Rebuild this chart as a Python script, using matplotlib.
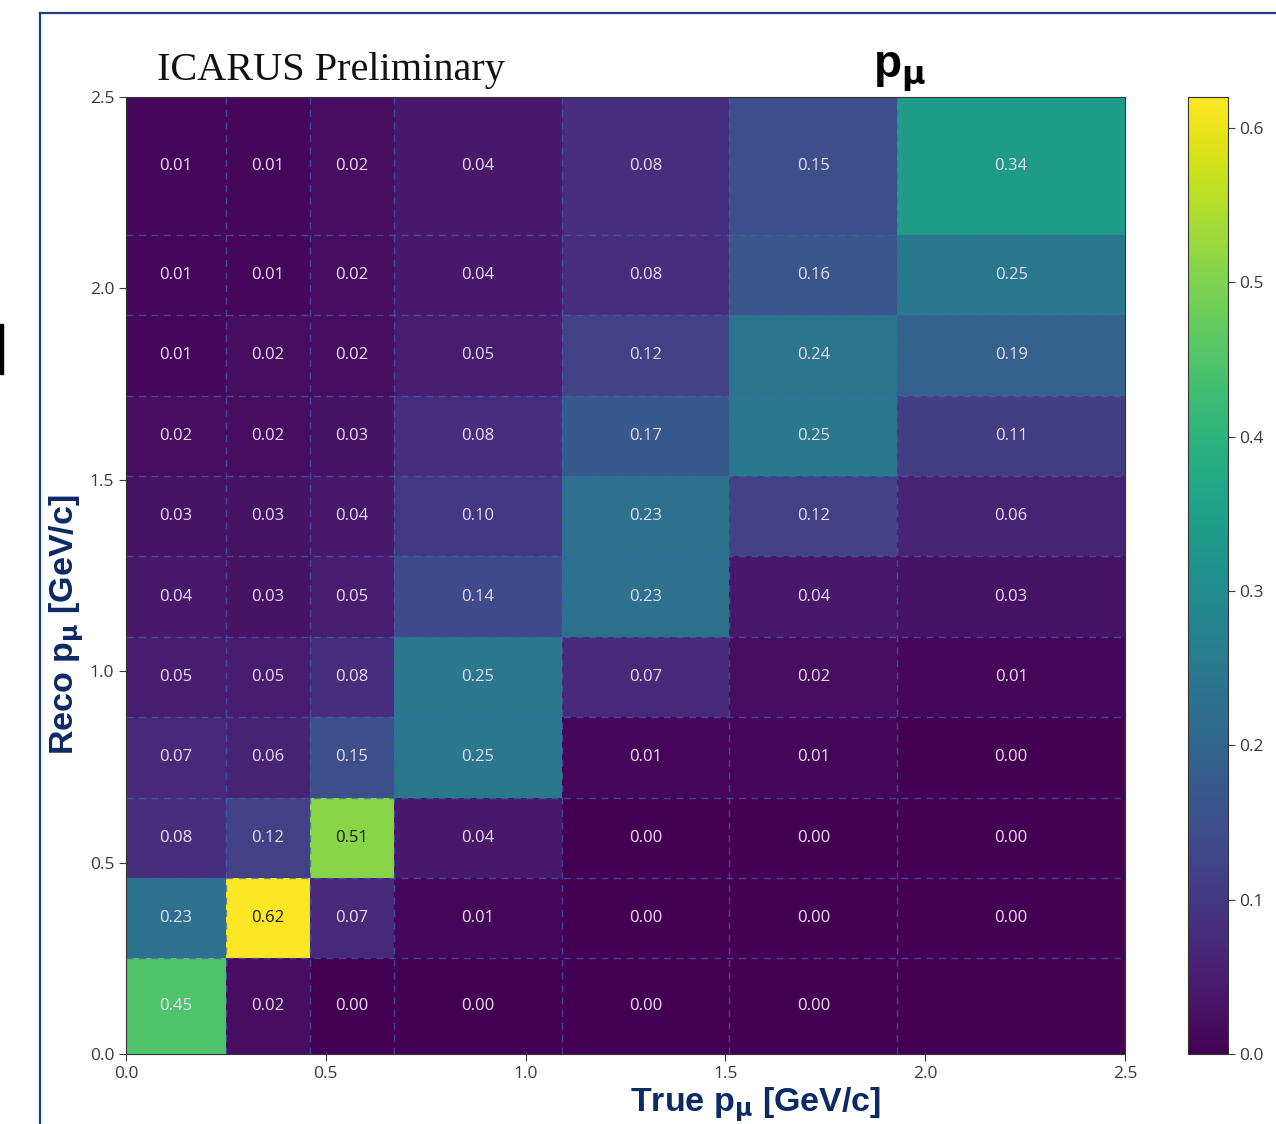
import numpy as np
import matplotlib.pyplot as plt
from matplotlib.patches import Rectangle
from matplotlib.lines import Line2D

# Bin edges (GeV/c), shared by true and reco axes
x_edges = [0.0, 0.25, 0.46, 0.67, 1.09, 1.51, 1.93, 2.5]
y_edges = [0.0, 0.25, 0.46, 0.67, 0.88, 1.09, 1.30, 1.51, 1.72, 1.93, 2.14, 2.5]

# Column-normalised migration fractions, rows from lowest reco bin upward
# (nan = empty bin, left unlabelled)
migration = [
    [0.45, 0.02, 0.00, 0.00, 0.00, 0.00, np.nan],
    [0.23, 0.62, 0.07, 0.01, 0.00, 0.00, 0.00],
    [0.08, 0.12, 0.51, 0.04, 0.00, 0.00, 0.00],
    [0.07, 0.06, 0.15, 0.25, 0.01, 0.01, 0.00],
    [0.05, 0.05, 0.08, 0.25, 0.07, 0.02, 0.01],
    [0.04, 0.03, 0.05, 0.14, 0.23, 0.04, 0.03],
    [0.03, 0.03, 0.04, 0.10, 0.23, 0.12, 0.06],
    [0.02, 0.02, 0.03, 0.08, 0.17, 0.25, 0.11],
    [0.01, 0.02, 0.02, 0.05, 0.12, 0.24, 0.19],
    [0.01, 0.01, 0.02, 0.04, 0.08, 0.16, 0.25],
    [0.01, 0.01, 0.02, 0.04, 0.08, 0.15, 0.34],
]

ticks = [0.0, 0.5, 1.0, 1.5, 2.0, 2.5]
cbar_ticks = [0.0, 0.1, 0.2, 0.3, 0.4, 0.5, 0.6]

navy = '#0b2a66'
tick_grey = '#3a3a3a'

vals = np.ma.masked_invalid(np.array(migration))
cmap = plt.get_cmap('viridis').copy()
cmap.set_bad(cmap(0.0))

fig = plt.figure(figsize=(12.76, 11.24), dpi=100)
ax = fig.add_axes([0.0987, 0.0623, 0.7830, 0.8514])
cax = fig.add_axes([0.931, 0.0623, 0.031, 0.8514])

mesh = ax.pcolormesh(x_edges, y_edges, vals, cmap=cmap, vmin=0.0, vmax=np.nanmax(vals))

# dashed separators between bins
for xe in x_edges[1:-1]:
    ax.axvline(xe, color='#3f62b0', lw=1.0, ls=(0, (5, 4)), alpha=0.7)
for ye in y_edges[1:-1]:
    ax.axhline(ye, color='#3f62b0', lw=1.0, ls=(0, (5, 4)), alpha=0.7)

xc = 0.5 * (np.array(x_edges[:-1]) + np.array(x_edges[1:]))
yc = 0.5 * (np.array(y_edges[:-1]) + np.array(y_edges[1:]))
for i, y in enumerate(yc):
    for j, x in enumerate(xc):
        v = migration[i][j]
        if np.isnan(v):
            continue
        col = '#1a1a1a' if v > 0.45 else '#ecdff0'
        ax.text(x, y, f'{v:.2f}', ha='center', va='center', fontsize=12,
                color=col, family='Open Sans')

ax.set_xlim(0, 2.5)
ax.set_ylim(0, 2.5)
ax.set_xticks(ticks)
ax.set_yticks(ticks)
ax.set_xticklabels([f'{t:.1f}' for t in ticks])
ax.set_yticklabels([f'{t:.1f}' for t in ticks])
ax.tick_params(labelsize=12.5, colors=tick_grey, labelcolor=tick_grey, length=5)
for lab in ax.get_xticklabels() + ax.get_yticklabels():
    lab.set_family('Open Sans')
for s in ax.spines.values():
    s.set_color('#333333')

cb = fig.colorbar(mesh, cax=cax, ticks=cbar_ticks)
cb.ax.tick_params(labelsize=12.5, colors=tick_grey, labelcolor=tick_grey, length=5)
for lab in cb.ax.get_yticklabels():
    lab.set_family('Open Sans')
cb.outline.set_edgecolor('#333333')

# axis titles placed on the figure
fig.text(0.592, 0.011, r'True p$_\mathbf{\mu}$ [GeV/c]', fontsize=24.5, fontweight='bold',
         color=navy, family='Liberation Sans', ha='center', va='baseline')
fig.text(0.052, 0.444, r'Reco p$_\mathbf{\mu}$ [GeV/c]', fontsize=24.5, fontweight='bold',
         color=navy, family='Liberation Sans', ha='center', va='center', rotation=90)

fig.text(0.123, 0.929, 'ICARUS Preliminary', fontsize=29, family='Liberation Serif',
         color='#111111', ha='left', va='baseline')
fig.text(0.705, 0.931, r'p$_\mathbf{\mu}$', fontsize=33, fontweight='bold',
         family='Liberation Sans', color='black', ha='center', va='baseline')

# slide frame around the plot
fig.add_artist(Line2D([0.0315, 0.0315], [0.0, 0.9885], transform=fig.transFigure,
                      color='#1f3f86', lw=1.6))
fig.add_artist(Line2D([0.0315, 1.0], [0.9885, 0.9885], transform=fig.transFigure,
                      color='#1f3f86', lw=1.6))
fig.add_artist(Rectangle((0.0, 0.667), 0.002, 0.045, transform=fig.transFigure,
                         color='black'))

fig.savefig('out.png', dpi=100)
